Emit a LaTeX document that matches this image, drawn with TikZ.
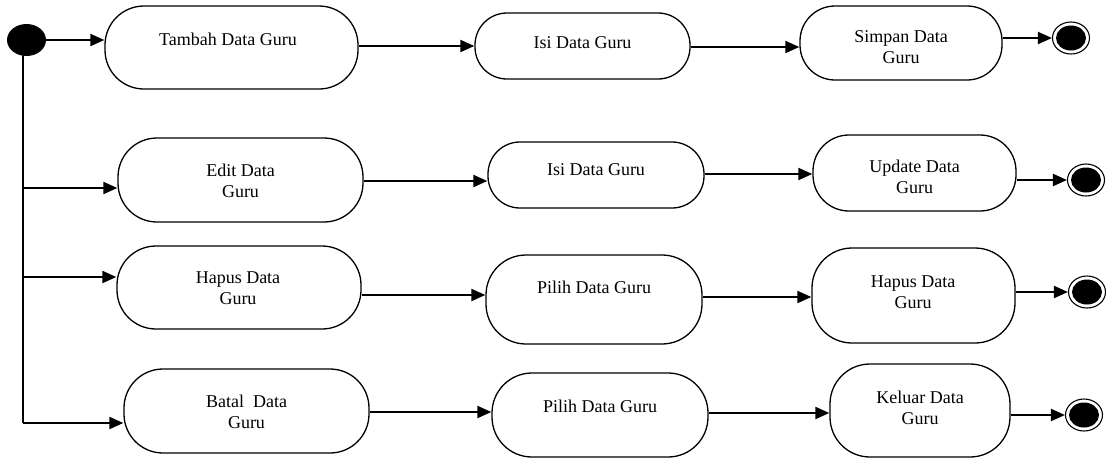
\documentclass[tikz,border=0pt]{standalone}
\usepackage{fontspec}
\setmainfont{Liberation Serif}
\usetikzlibrary{shapes.geometric,arrows.meta}
\begin{document}
\begin{tikzpicture}[x=1pt,y=-1pt,
  box/.style={draw=black,line width=1.3pt,rounded corners=#1,fill=white,inner sep=0pt},
  box/.default=36pt,
  txt/.style={font=\fontsize{18}{21}\selectfont,align=center,inner sep=0pt},
  arr/.style={line width=2pt,-{Triangle[length=14pt,width=12pt]}},
  trunk/.style={line width=2pt},
  startdot/.style={ellipse,fill=black,minimum width=39pt,minimum height=32pt,inner sep=0pt},
  endring/.style={ellipse,draw=black,line width=1.1pt,fill=white,minimum width=37pt,minimum height=32pt,inner sep=0pt},
  enddot/.style={ellipse,fill=black,minimum width=30pt,minimum height=25pt,inner sep=0pt}]
\useasboundingbox (0,0) rectangle (1106,459);

% start
\node[startdot] (S) at (26.5,40) {};
\coordinate (T0) at (23,50);
\coordinate (T4) at (23,423);

% row 1
\node[box=39pt,minimum width=253pt,minimum height=83pt] (A1) at (231.5,47.5) {};
\node[txt] (A1t) at (228,39) {Tambah Data Guru};
\node[box=32pt,minimum width=215pt,minimum height=66pt] (B1) at (582.5,46) {};
\node[txt] (B1t) at (582.5,43) {Isi Data Guru};
\node[box=35pt,minimum width=202pt,minimum height=74pt] (C1) at (901,43) {};
\node[txt] (C1t) at (901,47) {Simpan Data\\Guru};
\node[endring] (E1) at (1071,38) {};
\node[enddot] (E1i) at (1071,38) {};

% row 2
\node[box=39pt,minimum width=245pt,minimum height=84pt] (A2) at (240.5,180) {};
\node[txt] (A2t) at (240.5,181) {Edit Data\\Guru};
\node[box=32pt,minimum width=216pt,minimum height=66pt] (B2) at (596,175) {};
\node[txt] (B2t) at (596,170) {Isi Data Guru};
\node[box=36pt,minimum width=203pt,minimum height=76pt] (C2) at (914.5,173) {};
\node[txt] (C2t) at (914.5,177) {Update Data\\Guru};
\node[endring] (E2) at (1086,180) {};
\node[enddot] (E2i) at (1086,180) {};

% row 3
\node[box=39pt,minimum width=244pt,minimum height=83pt] (A3) at (239,287.5) {};
\node[txt] (A3t) at (238,288) {Hapus Data\\Guru};
\node[box=40pt,minimum width=216pt,minimum height=89pt] (B3) at (594,299.5) {};
\node[txt] (B3t) at (594,287) {Pilih Data Guru};
\node[box=40pt,minimum width=203pt,minimum height=95pt] (C3) at (913.5,295.5) {};
\node[txt] (C3t) at (913,292) {Hapus Data\\Guru};
\node[endring] (E3) at (1087,292) {};
\node[enddot] (E3i) at (1087,292) {};

% row 4
\node[box=39pt,minimum width=245pt,minimum height=84pt] (A4) at (246.5,411) {};
\node[txt] (A4t) at (246.5,411.5) {Batal\ \ Data\\Guru};
\node[box=40pt,minimum width=216pt,minimum height=84pt] (B4) at (600,415) {};
\node[txt] (B4t) at (600,406) {Pilih Data Guru};
\node[box=40pt,minimum width=180pt,minimum height=93pt] (C4) at (920,410.5) {};
\node[txt] (C4t) at (920,407.5) {Keluar Data\\Guru};
\node[endring] (E4) at (1084,415) {};
\node[enddot] (E4i) at (1084,415) {};

% trunk
\draw[trunk] (T0) -- (T4);

% connectors row 1
\draw[arr] (S.east) -- (A1.west |- S.east);
\draw[arr] (A1.east |- 0,46) -- (B1.west |- 0,46);
\draw[arr] (B1.east |- 0,47) -- (C1.west |- 0,47);
\draw[arr] (C1.east |- E1.west) -- (E1.west);

% row 2
\draw[arr] (T0 |- 0,188) -- (A2.west |- 0,188);
\draw[arr] (A2.east |- 0,181) -- (B2.west |- 0,181);
\draw[arr] (B2.east |- 0,174) -- (C2.west |- 0,174);
\draw[arr] (C2.east |- E2.west) -- (E2.west);

% row 3
\draw[arr] (T0 |- 0,277) -- (A3.west |- 0,277);
\draw[arr] (A3.east |- 0,295) -- (B3.west |- 0,295);
\draw[arr] (B3.east |- 0,297) -- (C3.west |- 0,297);
\draw[arr] (C3.east |- E3.west) -- (E3.west);

% row 4
\draw[arr] (T4) -- (A4.west |- T4);
\draw[arr] (A4.east |- 0,412) -- (B4.west |- 0,412);
\draw[arr] (B4.east |- 0,413) -- (C4.west |- 0,413);
\draw[arr] (C4.east |- E4.west) -- (E4.west);
\end{tikzpicture}
\end{document}
